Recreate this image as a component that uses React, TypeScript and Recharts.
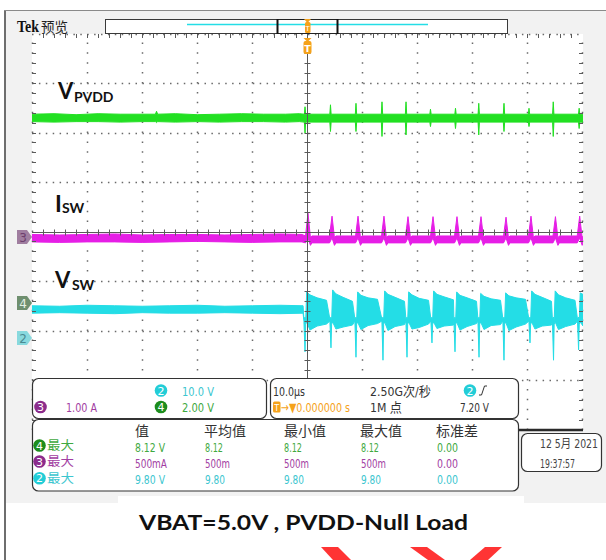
import React from 'react';
import { ComposedChart, Area, XAxis, YAxis } from 'recharts';

const CHART_W = 606;
const CHART_H = 560;
const PLOT_MARGIN = { top: 34, right: 23, bottom: 130, left: 32 };
const TIME_DOMAIN: [number, number] = [-50, 50]; // µs, 10 µs/div
const DIV_DOMAIN: [number, number] = [-4, 4]; // vertical divisions

const GREEN = '#22e022';
const MAGENTA = '#e61ee6';
const CYAN = '#24dde6';
const ORANGE = '#f5a21a';

// graticule ticks
const majorTimeTicks = [-50, -40, -30, -20, -10, 0, 10, 20, 30, 40, 50];
const majorDivTicks = [-4, -3, -2, -1, 0, 1, 2, 3, 4];
const minorTimeTicks = Array.from({ length: 49 }, (_, i) => -48 + 2 * i);
const minorDivTicks = Array.from({ length: 39 }, (_, i) => (i - 19) / 5);

// ---- Ch4 : V_PVDD (trace position in divisions) ----
const pvddLeftTime = [-50, -46, -42, -38, -34, -30, -27.6, -27.4, -27.2, -24, -20, -16, -12, -8, -4, -1.5];
const pvddLeftHigh = [2.38, 2.39, 2.37, 2.39, 2.38, 2.38, 2.38, 2.44, 2.38, 2.39, 2.37, 2.38, 2.39, 2.38, 2.38, 2.39];
const pvddLeftLow = [2.23, 2.22, 2.23, 2.23, 2.22, 2.23, 2.23, 2.21, 2.23, 2.22, 2.23, 2.22, 2.23, 2.23, 2.22, 2.23];
const pvddSpikeTime = [-0.45, 4.17, 8.8, 13.52, 17.88, 22.32, 26.86, 31.08, 35.66, 40.2, 44.6, 49.3];
const pvddSpikeHigh = [2.53, 2.57, 2.6, 2.63, 2.63, 2.48, 2.5, 2.6, 2.6, 2.5, 2.63, 2.5];
const pvddSpikeLow = [2.0, 2.03, 2.03, 1.93, 1.96, 2.13, 2.09, 1.96, 2.03, 2.13, 1.93, 2.09];
const pvddBand: [number, number] = [2.22, 2.38];

// ---- Ch3 : I_SW ----
const iswLeftTime = [-50, -45, -40, -35, -30, -25, -20, -15, -10, -5, -1];
const iswLeftHigh = [-0.05, -0.06, -0.05, -0.04, -0.06, -0.05, -0.05, -0.06, -0.05, -0.04, -0.05];
const iswLeftLow = [-0.2, -0.21, -0.2, -0.2, -0.21, -0.2, -0.19, -0.2, -0.21, -0.2, -0.2];
const iswPeakTime = [0.09, 4.45, 9.17, 13.88, 18.24, 22.78, 27.13, 31.49, 36.03, 40.56, 45.0, 49.4];
const iswPeakHigh = [0.38, 0.32, 0.32, 0.32, 0.31, 0.31, 0.31, 0.31, 0.3, 0.32, 0.31, 0.32];
const iswBand: [number, number] = [-0.22, -0.08];

// ---- Ch2 : V_SW ----
const vswLeftTime = [-50, -45, -40, -35, -30, -25, -20, -15, -10, -5, -0.8];
const vswLeftHigh = [-1.49, -1.5, -1.48, -1.49, -1.5, -1.49, -1.48, -1.5, -1.49, -1.48, -1.49];
const vswLeftLow = [-1.64, -1.63, -1.64, -1.65, -1.63, -1.64, -1.64, -1.63, -1.64, -1.65, -1.64];
const vswDropTime = [-0.45, 4.26, 8.8, 13.7, 18.06, 22.59, 26.77, 31.13, 35.66, 40.38, 44.65, 49.2];
const vswDropLow = [-2.42, -2.34, -2.53, -2.59, -2.53, -2.24, -2.42, -2.53, -2.59, -2.24, -2.59, -2.38];
const vswTopStart = [-1.21, -1.17, -1.21, -1.19, -1.21, -1.19, -1.21, -1.24, -1.23, -1.19, -1.19, -1.23];
const vswTopEarly = [-1.27, -1.25, -1.28, -1.26, -1.27, -1.26, -1.28, -1.3, -1.29, -1.26, -1.27, -1.29];
const vswTopMid = [-1.33, -1.32, -1.33, -1.32, -1.34, -1.31, -1.33, -1.35, -1.33, -1.32, -1.33, -1.34];
const vswTopEnd = [-1.38, -1.4, -1.36, -1.4, -1.38, -1.37, -1.4, -1.38, -1.36, -1.4, -1.38, -1.35];
const vswBottomEarly = [-1.98, -1.96, -1.97, -1.99, -1.96, -1.95, -1.98, -1.97, -1.99, -1.96, -1.97, -1.98];
const vswBottomMid = [-1.9, -1.92, -1.89, -1.91, -1.93, -1.9, -1.91, -1.89, -1.92, -1.9, -1.91, -1.9];
const vswBottomEnd = [-1.86, -1.88, -1.85, -1.87, -1.86, -1.88, -1.85, -1.87, -1.86, -1.88, -1.86, -1.87];

type Pt = { t: number; v: [number, number] };
const byTime = (a: Pt, b: Pt) => a.t - b.t;
const inRange = (p: Pt) => p.t >= TIME_DOMAIN[0] && p.t <= TIME_DOMAIN[1];

const pvddData: Pt[] = ([
  ...pvddLeftTime.map((t, i) => ({ t, v: [pvddLeftLow[i], pvddLeftHigh[i]] })),
  ...pvddSpikeTime.flatMap((t, i) => [
    { t: t - 0.12, v: pvddBand },
    { t, v: [pvddSpikeLow[i], pvddSpikeHigh[i]] },
    { t: t + 0.12, v: pvddBand },
  ]),
  { t: 50, v: pvddBand },
] as Pt[]).filter(inRange).sort(byTime);

const iswData: Pt[] = ([
  ...iswLeftTime.map((t, i) => ({ t, v: [iswLeftLow[i], iswLeftHigh[i]] })),
  ...iswPeakTime.flatMap((t, i) => [
    { t: t - 0.45, v: iswBand },
    { t, v: [-0.12, iswPeakHigh[i]] },
    { t: t + 0.45, v: [-0.27, -0.12] },
    { t: t + 0.7, v: iswBand },
  ]),
  { t: 50, v: iswBand },
] as Pt[]).filter(inRange).sort(byTime);

const vswData: Pt[] = ([
  ...vswLeftTime.map((t, i) => ({ t, v: [vswLeftLow[i], vswLeftHigh[i]] })),
  ...vswDropTime.flatMap((d, i) => [
    { t: d - 0.2, v: [-1.8, -1.76] },
    { t: d, v: [vswDropLow[i], -1.72] },
    { t: d + 0.12, v: [-1.86, -1.8] },
    { t: d + 0.3, v: [-1.82, vswTopStart[i]] },
    { t: d + 0.9, v: [vswBottomEarly[i], vswTopEarly[i]] },
    { t: d + 2.2, v: [vswBottomMid[i], vswTopMid[i]] },
    { t: d + 3.9, v: [vswBottomEnd[i], vswTopEnd[i]] },
  ]),
  { t: 50, v: [-1.9, -1.26] },
] as Pt[]).filter(inRange).sort(byTime);

const layer: React.CSSProperties = { position: 'absolute', left: 0, top: 0 };

function TraceChart({ data, color }: { data: Pt[]; color: string }) {
  return (
    <div style={layer}>
      <ComposedChart width={CHART_W} height={CHART_H} data={data} margin={PLOT_MARGIN}>
        <XAxis dataKey="t" type="number" domain={TIME_DOMAIN} hide allowDataOverflow />
        <YAxis type="number" domain={DIV_DOMAIN} hide allowDataOverflow />
        <Area
          type="linear"
          dataKey="v"
          stroke={color}
          strokeWidth={1}
          fill={color}
          fillOpacity={1}
          dot={false}
          activeDot={false}
          isAnimationActive={false}
        />
      </ComposedChart>
    </div>
  );
}

// graticule geometry (same mapping as the chart plot area)
const PLOT_L = PLOT_MARGIN.left;
const PLOT_R = CHART_W - PLOT_MARGIN.right;
const PLOT_T = PLOT_MARGIN.top;
const PLOT_B = CHART_H - PLOT_MARGIN.bottom;
const sx = (t: number) => PLOT_L + ((t - TIME_DOMAIN[0]) / (TIME_DOMAIN[1] - TIME_DOMAIN[0])) * (PLOT_R - PLOT_L);
const sy = (d: number) => PLOT_T + ((DIV_DOMAIN[1] - d) / (DIV_DOMAIN[1] - DIV_DOMAIN[0])) * (PLOT_B - PLOT_T);
const crisp = (v: number, lo: number, hi: number) => Math.min(Math.max(Math.floor(v) + 0.5, lo + 0.5), hi - 0.5);
const cx = (t: number) => crisp(sx(t), PLOT_L, PLOT_R);
const cy = (d: number) => crisp(sy(d), PLOT_T, PLOT_B);

const DOT = '#6a6a6a';
const AXC = '#5a5a5a';

function GratDots() {
  return (
    <svg width={CHART_W} height={CHART_H} style={layer}>
      {majorTimeTicks
        .filter((t) => t !== 0)
        .map((t) => (
          <line key={'v' + t} x1={cx(t)} x2={cx(t)} y1={PLOT_B} y2={PLOT_T} stroke={DOT} strokeWidth={1.5} strokeDasharray="1.5 8.4" />
        ))}
      {majorDivTicks
        .filter((d) => d !== 0 && d !== -4)
        .map((d) => (
          <line key={'h' + d} x1={PLOT_L} x2={PLOT_R} y1={cy(d)} y2={cy(d)} stroke={DOT} strokeWidth={1.5} strokeDasharray="1.5 5.4" />
        ))}
    </svg>
  );
}

function GratAxes() {
  const x0 = cx(0);
  const y0 = cy(0);
  return (
    <svg width={CHART_W} height={CHART_H} style={layer}>
      <line x1={x0} x2={x0} y1={PLOT_T} y2={PLOT_B} stroke={AXC} strokeWidth={1} />
      <line x1={PLOT_L} x2={PLOT_R} y1={y0} y2={y0} stroke={AXC} strokeWidth={1} />
      {minorTimeTicks.map((t) => (
        <line key={'ct' + t} x1={cx(t)} x2={cx(t)} y1={y0 - 3} y2={y0 + 3} stroke={AXC} strokeWidth={1} />
      ))}
      {minorDivTicks.map((d) => (
        <line key={'cd' + d} x1={x0 - 3} x2={x0 + 3} y1={cy(d)} y2={cy(d)} stroke={AXC} strokeWidth={1} />
      ))}
      {minorTimeTicks.map((t) => (
        <line key={'tt' + t} x1={cx(t)} x2={cx(t)} y1={PLOT_T} y2={PLOT_T + 4} stroke={AXC} strokeWidth={1} />
      ))}
      {minorDivTicks.map((d) => (
        <line key={'lt' + d} x1={PLOT_L} x2={PLOT_L + 4} y1={cy(d)} y2={cy(d)} stroke={AXC} strokeWidth={1} />
      ))}
      {minorDivTicks.map((d) => (
        <line key={'rt' + d} x1={PLOT_R - 4} x2={PLOT_R} y1={cy(d)} y2={cy(d)} stroke={AXC} strokeWidth={1} />
      ))}
      <line x1={PLOT_L} x2={PLOT_R} y1={PLOT_B} y2={PLOT_B} stroke="#2a2a2a" strokeWidth={2.5} />
    </svg>
  );
}

const UI = "'DejaVu Sans Condensed', 'Liberation Sans', 'Noto Sans CJK SC', sans-serif";
const CJK = "'Noto Sans CJK SC', sans-serif";
const LABEL = "Lato, 'Open Sans', sans-serif";

const C_GREEN_TXT = '#3fa93f';
const C_PURPLE_TXT = '#a23ea2';
const C_CYAN_TXT = '#3cc6cf';
const C_GREEN_BADGE = '#1d8d1d';
const C_PURPLE_BADGE = '#8c2c8c';
const C_CYAN_BADGE = '#22cdd7';

function Txt({ x, y, w, fill, children, anchor, size = 13 }: { x: number; y: number; w: number; fill: string; children: React.ReactNode; anchor?: 'start' | 'end' | 'middle'; size?: number }) {
  return (
    <text x={x} y={y} textLength={w} lengthAdjust="spacingAndGlyphs" textAnchor={anchor} fontFamily={UI} fontSize={size} fill={fill}>
      {children}
    </text>
  );
}

function Badge({ cx, cy, n, fill }: { cx: number; cy: number; n: string; fill: string }) {
  return (
    <g>
      <circle cx={cx} cy={cy} r={6.3} fill={fill} />
      <text x={cx} y={cy + 4} textAnchor="middle" fontFamily="'DejaVu Sans', sans-serif" fontSize={11} fill="#fff">
        {n}
      </text>
    </g>
  );
}

function ChMarker({ cy, n, fill, color }: { cy: number; n: string; fill: string; color: string }) {
  return (
    <g>
      <path d={`M17,${cy - 7} L27,${cy - 7} L32,${cy} L27,${cy + 7} L17,${cy + 7} Z`} fill={fill} />
      <text x={23} y={cy + 4.5} textAnchor="middle" fontFamily="'DejaVu Sans', sans-serif" fontSize={12} fill={color}>
        {n}
      </text>
    </g>
  );
}

const measHeaders = ['值', '平均值', '最小值', '最大值', '标准差'];
const measHeaderX = [135, 204, 284, 360, 436];
const measColX = [135, 205, 284, 361, 437];
const measRows = [
  { ch: '4', badge: C_GREEN_BADGE, color: C_GREEN_TXT, vals: ['8.12 V', '8.12', '8.12', '8.12', '0.00'], w: [30, 18, 18, 18, 21] },
  { ch: '3', badge: C_PURPLE_BADGE, color: C_PURPLE_TXT, vals: ['500mA', '500m', '500m', '500m', '0.00'], w: [32, 25, 25, 25, 21] },
  { ch: '2', badge: C_CYAN_BADGE, color: C_CYAN_TXT, vals: ['9.80 V', '9.80', '9.80', '9.80', '0.00'], w: [30, 20, 20, 20, 21] },
];
const measRowY = [445.5, 461.5, 478.3];

function Background() {
  return (
    <svg width={CHART_W} height={CHART_H} style={layer}>
      <rect x={0} y={0} width={CHART_W} height={CHART_H} fill="#ffffff" />
      <rect x={6} y={11} width={600} height={492} fill="#f2f2f2" />
      <rect x={118} y={496} width={406} height={64} fill="#ffffff" />
      <rect x={PLOT_L} y={PLOT_T} width={PLOT_R - PLOT_L} height={PLOT_B - PLOT_T} fill="#ffffff" />
      <line x1={5} y1={10} x2={5} y2={560} stroke="#6e6e6e" strokeWidth={2} />
      <line x1={4} y1={10.5} x2={606} y2={10.5} stroke="#8a8a8a" strokeWidth={1.2} />
    </svg>
  );
}

function Overlay() {
  return (
    <svg width={CHART_W} height={CHART_H} style={layer}>
      {/* header */}
      <text x={17} y={32} fontFamily="'Liberation Serif', serif" fontWeight="bold" fontSize={16} textLength={22} lengthAdjust="spacingAndGlyphs" fill="#111">
        Tek
      </text>
      <text x={41} y={31.5} fontFamily={CJK} fontSize={13.5} fill="#222">
        预览
      </text>
      <rect x={105.5} y={19.5} width={402} height={14} fill="#fff" stroke="#3a3a3a" strokeWidth={1} />
      <line x1={187} y1={24.5} x2={428} y2={24.5} stroke={CYAN} strokeWidth={1.5} />
      <rect x={277.5} y={19.5} width={60} height={14} fill="none" stroke="#222" strokeWidth={1} />
      <line x1={277.5} y1={19} x2={277.5} y2={34} stroke="#111" strokeWidth={2} />
      <line x1={337.5} y1={19} x2={337.5} y2={34} stroke="#111" strokeWidth={2} />
      {/* trigger position markers */}
      <polygon points="304,19 311,19 307.5,23" fill={ORANGE} />
      <rect x={305} y={22} width={5.5} height={11} rx={1.5} fill={ORANGE} />
      <text x={307.7} y={31} textAnchor="middle" fontFamily="'DejaVu Sans', sans-serif" fontSize={7} fill="#fff">
        T
      </text>
      <polygon points="303.5,38 311.5,38 307.5,42" fill={ORANGE} />
      <rect x={303.5} y={41} width={8} height={13} rx={2} fill={ORANGE} />
      <text x={307.5} y={51.5} textAnchor="middle" fontFamily="'DejaVu Sans', sans-serif" fontWeight="bold" fontSize={9.5} fill="#fff">
        T
      </text>

      {/* trace labels */}
      <text x={58} y={98.5} fontFamily={LABEL} fontWeight={700} fontSize={22} fill="#111">
        V
      </text>
      <text x={74} y={102} fontFamily={LABEL} fontWeight={700} fontSize={14} fill="#111">
        PVDD
      </text>
      <text x={55} y={212} fontFamily={LABEL} fontWeight={700} fontSize={23} fill="#111">
        I
      </text>
      <text x={62} y={212.5} fontFamily={LABEL} fontWeight={700} fontSize={14} fill="#111">
        SW
      </text>
      <text x={55} y={288} fontFamily={LABEL} fontWeight={700} fontSize={22} fill="#111">
        V
      </text>
      <text x={72} y={290} fontFamily={LABEL} fontWeight={700} fontSize={14} fill="#111">
        SW
      </text>

      {/* channel markers */}
      <ChMarker cy={237} n="3" fill="#a07ea0" color="#6d3f6d" />
      <ChMarker cy={303} n="4" fill="#6f8f6f" color="#e4f0e4" />
      <ChMarker cy={338} n="2" fill="#88d9de" color="#4a8a92" />

      {/* channel settings box */}
      <rect x={32.5} y={378.5} width={234} height={40} rx={6} fill="#fff" stroke="#333" strokeWidth={1.2} />
      <Badge cx={161} cy={390.5} n="2" fill={C_CYAN_BADGE} />
      <Txt x={182} y={396} w={32} fill={C_CYAN_TXT}>10.0 V</Txt>
      <Badge cx={40.5} cy={407} n="3" fill={C_PURPLE_BADGE} />
      <Txt x={66} y={411.7} w={31} fill={C_PURPLE_TXT}>1.00 A</Txt>
      <Badge cx={161} cy={407} n="4" fill={C_GREEN_BADGE} />
      <Txt x={182} y={411.7} w={32} fill={C_GREEN_TXT}>2.00 V</Txt>

      {/* timebase box */}
      <rect x={270.5} y={378.5} width={248} height={40} rx={6} fill="#fff" stroke="#333" strokeWidth={1.2} />
      <Txt x={273} y={396} w={32} fill="#333">10.0µs</Txt>
      <Txt x={370} y={396} w={61} fill="#333">2.50G次/秒</Txt>
      <Badge cx={470} cy={390.5} n="2" fill={C_CYAN_BADGE} />
      <path d="M479,395 L481.5,395 L484.5,386 L487,386" fill="none" stroke="#333" strokeWidth={1} />
      <rect x={273} y={401.5} width={7.5} height={11} rx={1.5} fill={ORANGE} />
      <text x={276.7} y={410.5} textAnchor="middle" fontFamily="'DejaVu Sans', sans-serif" fontSize={8} fill="#fff">T</text>
      <Txt x={281} y={411.7} w={69} fill={ORANGE}>→▼0.000000 s</Txt>
      <Txt x={370} y={411.7} w={32} fill="#333">1M 点</Txt>
      <Txt x={460} y={411.7} w={29} fill="#333">7.20 V</Txt>

      {/* measurement box */}
      <rect x={32.5} y={419.5} width={486} height={71.5} rx={6} fill="#fff" stroke="#333" strokeWidth={1.2} />
      {measHeaders.map((h, i) => (
        <text key={h} x={measHeaderX[i]} y={436} fontFamily={CJK} fontSize={14} fill="#333">
          {h}
        </text>
      ))}
      {measRows.map((r, ri) => (
        <g key={r.ch}>
          <Badge cx={39.5} cy={measRowY[ri]} n={r.ch} fill={r.badge} />
          <text x={47} y={measRowY[ri] + 4.5} fontFamily={CJK} fontSize={12.5} textLength={27} lengthAdjust="spacingAndGlyphs" fill={r.color}>
            最大
          </text>
          {r.vals.map((v, ci) => (
            <Txt key={ci} x={measColX[ci]} y={measRowY[ri] + 6} w={r.w[ci]} fill={r.color}>
              {v}
            </Txt>
          ))}
        </g>
      ))}

      {/* date box */}
      <rect x={521.5} y={433.5} width={80} height={38} rx={6} fill="#fff" stroke="#333" strokeWidth={1.2} />
      <Txt x={540} y={448} w={58} size={12} fill="#444">12 5月 2021</Txt>
      <Txt x={540} y={468} w={35} size={12} fill="#444">19:37:57</Txt>

      {/* caption */}
      <text x={303.5} y={530} textAnchor="middle" fontFamily={LABEL} fontWeight={700} fontSize={21} textLength={329} lengthAdjust="spacingAndGlyphs" fill="#111">
        VBAT=5.0V , PVDD-Null Load
      </text>

      {/* watermark fragments */}
      <polygon points="321,547 338,547 351,560 333,560" fill="#ff3434" />
      <polygon points="410,547 427,547 445,560 428,560" fill="#ff3434" />
      <polygon points="485,547 502,547 488,560 470,560" fill="#ff3434" />
    </svg>
  );
}

export default function App() {
  return (
    <div style={{ position: 'absolute', left: 0, top: 0, width: CHART_W, height: CHART_H, overflow: 'hidden', background: '#fff' }}>
      <Background />
      <GratDots />
      <TraceChart data={pvddData} color={GREEN} />
      <TraceChart data={iswData} color={MAGENTA} />
      <TraceChart data={vswData} color={CYAN} />
      <GratAxes />
      <Overlay />
    </div>
  );
}
